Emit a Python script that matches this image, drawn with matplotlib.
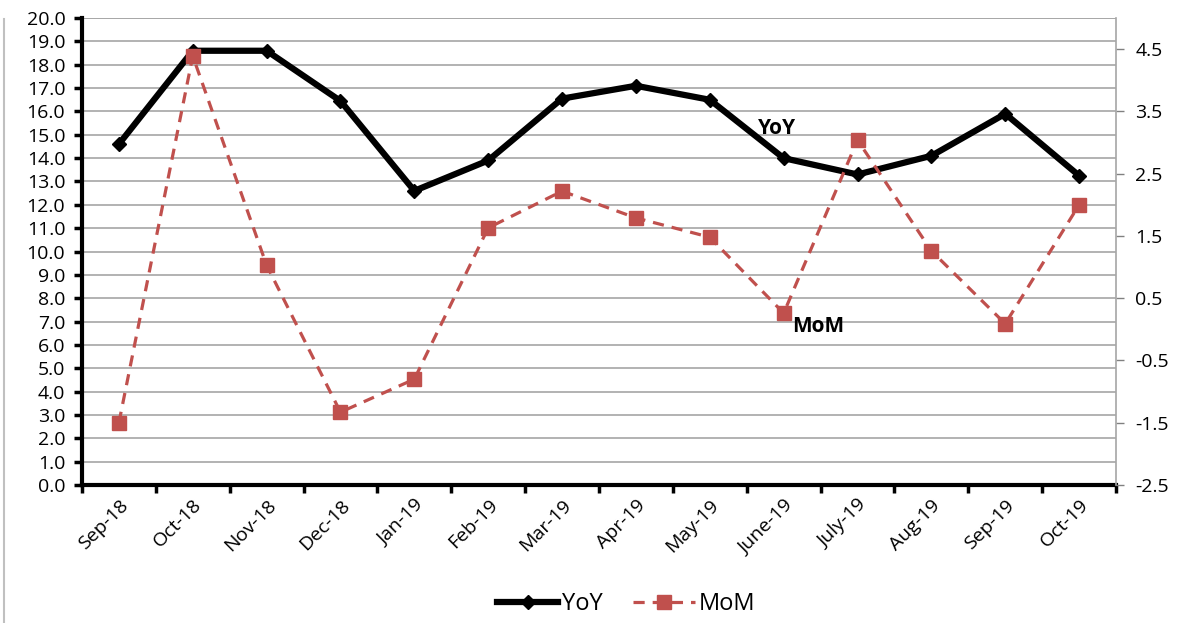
import matplotlib.pyplot as plt
import numpy as np
from matplotlib.lines import Line2D

# du lieu doc tu hinh
thang = ['Sep-18', 'Oct-18', 'Nov-18', 'Dec-18', 'Jan-19', 'Feb-19', 'Mar-19',
         'Apr-19', 'May-19', 'June-19', 'July-19', 'Aug-19', 'Sep-19', 'Oct-19']
yoy = [14.6, 18.6, 18.6, 16.45, 12.6, 13.9, 16.55, 17.1, 16.5, 14.0, 13.3, 14.1, 15.9, 13.25]
mom = [-1.5, 4.39, 1.03, -1.33, -0.8, 1.63, 2.22, 1.79, 1.48, 0.26, 3.04, 1.26, 0.09, 2.0]

plt.rcParams['font.family'] = ['Open Sans', 'DejaVu Sans']

fig = plt.figure(figsize=(11.81, 6.23), dpi=100)
ax = fig.add_axes([0.0694, 0.2215, 0.8756, 0.7495])
ax2 = ax.twinx()

x = np.arange(len(thang))

# truc trai: YoY
ax.set_xlim(-0.5, len(thang) - 0.5)
ax.set_ylim(0, 20)
ax.set_yticks(np.arange(0, 20.1, 1))
ax.set_yticklabels([f'{v:.1f}' for v in np.arange(0, 20.1, 1)])
ax.grid(axis='y', color='#a6a6a6', linewidth=1.2)
ax.set_axisbelow(True)

ax.set_xticks(np.arange(-0.5, len(thang), 1))
ax.set_xticklabels([])
ax.set_xticks(x, minor=True)
ax.set_xticklabels(thang, minor=True, rotation=45, ha='right',
                   rotation_mode='anchor')
ax.tick_params(axis='x', which='minor', length=0, pad=8, labelsize=14)
ax.tick_params(axis='x', which='major', length=6, width=2.5, color='black')
ax.tick_params(axis='y', length=6, width=2.5, color='black', pad=6, labelsize=14)

for s in ['left', 'bottom']:
    ax.spines[s].set_linewidth(3)
    ax.spines[s].set_color('black')
ax.spines['top'].set_visible(False)
ax.spines['right'].set_visible(False)

l1, = ax.plot(x, yoy, color='black', linewidth=4.5, marker='D', markersize=7,
              label='YoY', zorder=4)

# truc phai: MoM
ax2.set_ylim(-2.5, 5.0)
ax2.set_yticks(np.arange(-2.5, 4.6, 1))
ax2.set_yticklabels([f'{v:.1f}' for v in np.arange(-2.5, 4.6, 1)])
ax2.tick_params(axis='y', length=6, width=1, color='#808080', pad=8, labelsize=14)
for s in ['left', 'bottom', 'top']:
    ax2.spines[s].set_visible(False)
ax2.spines['right'].set_color('#a6a6a6')
ax2.spines['right'].set_linewidth(1.2)

l2, = ax2.plot(x, mom, color='#c0504d', linewidth=2.3, linestyle=(0, (3.5, 2.5)),
               marker='s', markersize=10, label='MoM', zorder=3)

# duong luoi tren cung
ax.axhline(20, color='#a6a6a6', linewidth=1.2)

# nhan tren duong
ax.text(8.65, 15.25, 'YoY', fontsize=15, fontweight='bold', ha='left', va='center')
ax2.text(9.12, 0.05, 'MoM', fontsize=15, fontweight='bold', ha='left', va='center')

fig.legend(handles=[l1, l2], loc='center', bbox_to_anchor=(0.53, 0.03),
           ncol=2, frameon=False, fontsize=17, handlelength=2.6,
           columnspacing=1.3, handletextpad=0.15)

# vien trai cua khung
fig.add_artist(Line2D([0.003, 0.003], [0, 0.97], transform=fig.transFigure,
                      color='#c0c0c0', linewidth=1.5))

plt.savefig('out.png', dpi=100)
